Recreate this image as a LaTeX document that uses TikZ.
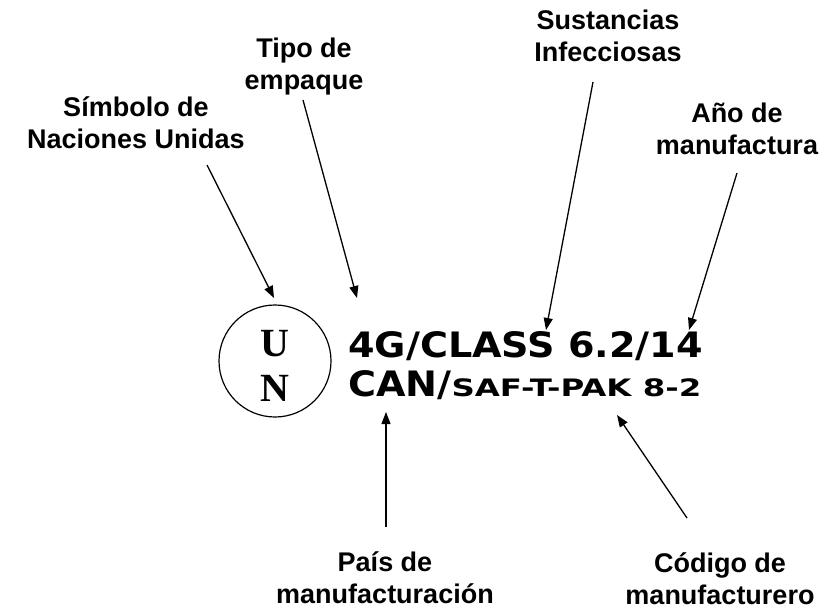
\documentclass[tikz,border=0pt]{standalone}
\usepackage{fontspec}
\usepackage{graphicx}
\setmainfont{Liberation Sans}
\newfontfamily\markfont{DejaVu Sans}
\newfontfamily\unfont{Liberation Serif}
\usetikzlibrary{arrows.meta}
\tikzset{
  lbl/.style={align=center,anchor=base,inner sep=0pt,
    font=\fontsize{27}{32}\selectfont\bfseries},
  pointer/.style={line width=1.3pt,-{Triangle[length=12pt,width=9pt]}}
}
\begin{document}
\begin{tikzpicture}[x=1pt,y=-1pt]
    \useasboundingbox (0,0) rectangle (828,613);

    \coordinate (T0) at (207,165);
    \coordinate (H0) at (274,298);
    \coordinate (T1) at (303,100);
    \coordinate (H1) at (357,298);
    \coordinate (T2) at (593,82);
    \coordinate (H2) at (546,330);
    \coordinate (T3) at (737,173);
    \coordinate (H3) at (689,330);
    \coordinate (T4) at (386,527);
    \coordinate (H4) at (386,412);
    \coordinate (T5) at (687,518);
    \coordinate (H5) at (617,415);

    \node[draw,circle,line width=1.2pt,minimum size=112pt,inner sep=0pt] (un) at (275,361) {};
    \node[anchor=base,inner sep=0pt,font=\unfont\fontsize{40}{44}\selectfont\bfseries] (unU) at (275,356) {U};
    \node[anchor=base,inner sep=0pt,font=\unfont\fontsize{40}{44}\selectfont\bfseries] (unN) at (275,401) {N};

    \node[anchor=base west,inner sep=0pt,font=\markfont\fontsize{35}{40}\selectfont\bfseries]
      (line1) at (348,357) {\scalebox{1.09}[1]{4G/CLASS 6.2/14}};
    \node[anchor=base west,inner sep=0pt,font=\markfont\bfseries]
      (line2) at (348,396) {{\fontsize{35}{40}\selectfont\scalebox{1.09}[1]{CAN/}}{\fontsize{24}{28}\selectfont\scalebox{1.35}[1]{SAF-T-PAK 8-2}}};

    \node[lbl] (simbolo) at (136,148) {Símbolo de\\Naciones Unidas};
    \node[lbl] (tipo) at (304,89) {Tipo de\\empaque};
    \node[lbl] (sustancias) at (608,61) {Sustancias\\Infecciosas};
    \node[lbl] (anio) at (737,154) {Año de\\manufactura};
    \node[lbl] (pais) at (385,603) {País de\\manufacturación};
    \node[lbl] (codigo) at (720,604) {Código de\\manufacturero};

    \draw[pointer] (T0) -- (H0);
    \draw[pointer] (T1) -- (H1);
    \draw[pointer] (T2) -- (H2);
    \draw[pointer] (T3) -- (H3);
    \draw[pointer] (T4) -- (H4);
    \draw[pointer] (T5) -- (H5);
\end{tikzpicture}
\end{document}
